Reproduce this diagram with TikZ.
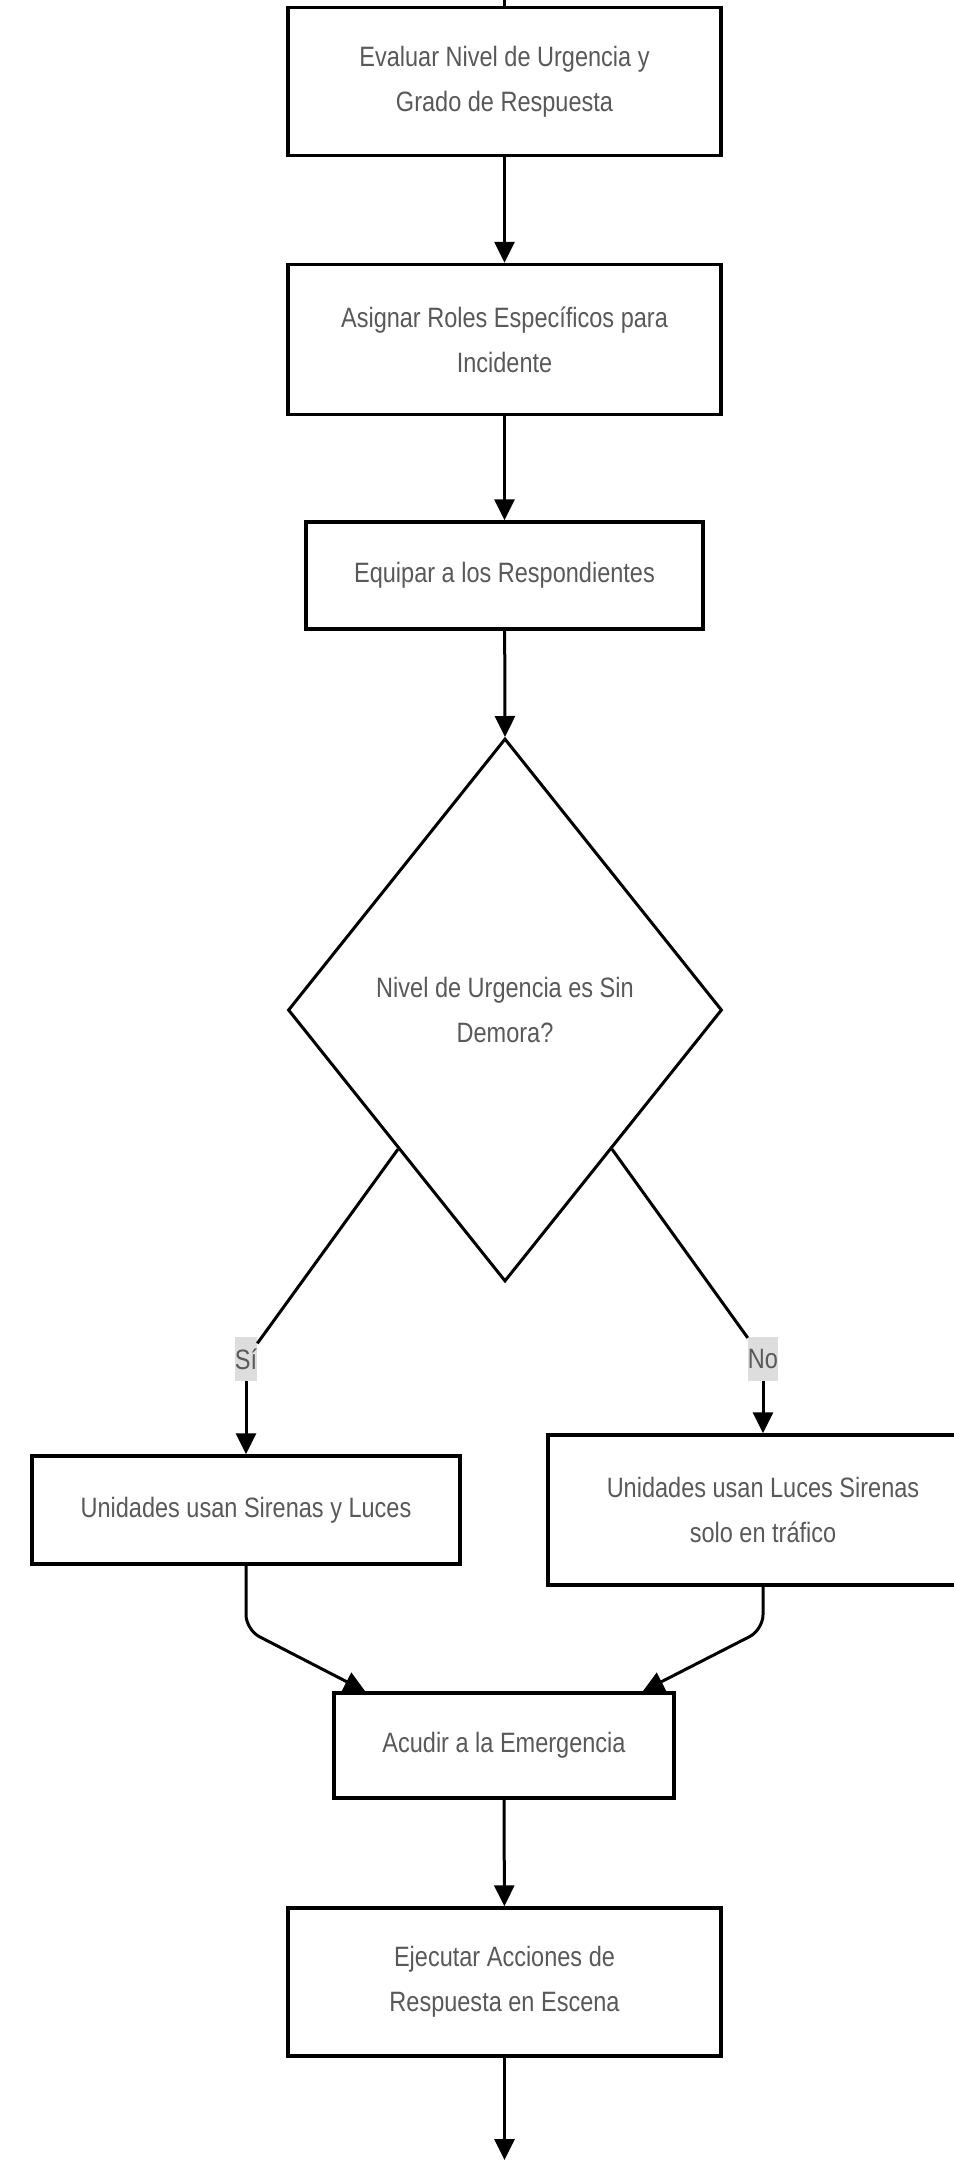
\documentclass[tikz,border=0pt]{standalone}
\usepackage{fontspec}
\setmainfont[FakeStretch=0.84]{Liberation Sans}
\usetikzlibrary{shapes.geometric,arrows.meta,calc}

\definecolor{textogris}{HTML}{595959}
\definecolor{fondoetiqueta}{HTML}{DDDDDD}

\begin{document}
\begin{tikzpicture}[x=1pt, y=-1pt,
  caja/.style={draw=black, line width=3.5pt, fill=white, align=center, text=textogris, inner sep=0pt, font=\fontsize{28}{45}\selectfont},
  rombo/.style={caja, diamond, line width=3pt, aspect=0.8},
  etiqueta/.style={fill=fondoetiqueta, text=textogris, inner sep=0pt, minimum height=44pt, font=\fontsize{28}{45}\selectfont},
  linea/.style={line width=3pt},
  flecha/.style={linea, -{Triangle[width=20pt,length=21pt]}}]
\useasboundingbox (0,0) rectangle (953,2160);

\node[caja, minimum width=433pt, minimum height=148pt] (evaluar) at (504.5,81.5) {Evaluar Nivel de Urgencia y\\Grado de Respuesta};
\node[caja, minimum width=433pt, minimum height=150pt] (asignar) at (504.5,339.5) {Asignar Roles Específicos para\\Incidente};
\node[caja, minimum width=397pt, minimum height=107pt] (equipar) at (504.5,575.5) {Equipar a los Respondientes};
\node[rombo, minimum width=434pt, minimum height=543pt] (decision) at (505,1010) {Nivel de Urgencia es Sin\\Demora?};
\node[caja, minimum width=428pt, minimum height=108pt] (sirenas) at (246,1510) {Unidades usan Sirenas y Luces};
\node[caja, minimum width=430pt, minimum height=150pt] (trafico) at (763,1510) {Unidades usan Luces Sirenas\\solo en tráfico};
\node[caja, minimum width=340pt, minimum height=105pt] (acudir) at (504,1745.5) {Acudir a la Emergencia};
\node[caja, minimum width=433pt, minimum height=148pt] (ejecutar) at (504.5,1982) {Ejecutar Acciones de\\Respuesta en Escena};

\node[etiqueta] (si) at (246,1359) {Sí};
\node[etiqueta] (no) at (763,1359) {No};

\coordinate (inicio) at (504.5,-20);
\coordinate (fin) at (504.5,2160);

\draw[linea] (inicio) -- (evaluar);
\draw[flecha] (evaluar) -- (asignar);
\draw[flecha] (asignar) -- (equipar);
\draw[flecha] (equipar) -- (decision.north);

%ramas de la decision
\draw[linea] ($(decision.west)!0.51!(decision.south)$) -- (si);
\draw[flecha] (si) -- (sirenas);
\draw[linea] ($(decision.east)!0.51!(decision.south)$) -- (no);
\draw[flecha] (no) -- (trafico);

\draw[flecha, rounded corners=15pt] (sirenas.south) -- ++(0,64) -- ($(acudir.north west)!0.096!(acudir.north east)$);
\draw[flecha, rounded corners=15pt] (trafico.south) -- ++(0,43) -- ($(acudir.north east)!0.096!(acudir.north west)$);

\draw[flecha] (acudir) -- (ejecutar);
\draw[flecha] (ejecutar) -- (fin);
\end{tikzpicture}
\end{document}
